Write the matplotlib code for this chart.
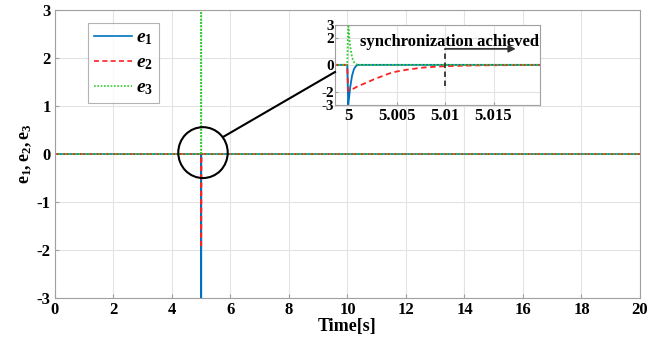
import matplotlib
matplotlib.use("Agg")
import matplotlib.pyplot as plt
from matplotlib.patches import Ellipse
from matplotlib.ticker import FixedLocator, FixedFormatter

plt.rcParams['font.family'] = ['Liberation Serif', 'DejaVu Serif']
plt.rcParams['font.weight'] = 'bold'
plt.rcParams['axes.unicode_minus'] = False
plt.rcParams['mathtext.fontset'] = 'custom'
plt.rcParams['mathtext.rm'] = 'Liberation Serif:bold'
plt.rcParams['mathtext.it'] = 'Liberation Serif:italic:bold'
plt.rcParams['mathtext.bf'] = 'Liberation Serif:bold'

# ---- data ----
t = [0, 4.9999, 5.0, 5.0001, 5.0002, 5.0004, 5.0006, 5.0008, 5.0009, 5.001,
     5.0015, 5.002, 5.0026, 5.0035, 5.0043, 5.005, 5.006, 5.007, 5.0078,
     5.009, 5.01, 5.013, 5.016, 5.02, 20]
e1 = [0, 0, -3.0, -2.4, -1.7, -0.8, -0.3, -0.1, -0.04, 0,
      0, 0, 0, 0, 0, 0, 0, 0, 0,
      0, 0, 0, 0, 0, 0]
e2 = [0, 0, -1.95, -1.92, -1.88, -1.82, -1.76, -1.68, -1.64, -1.6,
      -1.45, -1.3, -1.1, -0.85, -0.63, -0.5, -0.37, -0.27, -0.2,
      -0.14, -0.1, -0.04, -0.02, 0, 0]
e3 = [0, 0, 3.3, 2.2, 1.4, 0.55, 0.2, 0.06, 0.02, 0,
      0, 0, 0, 0, 0, 0, 0, 0, 0,
      0, 0, 0, 0, 0, 0]

main_xticks = [0, 2, 4, 6, 8, 10, 12, 14, 16, 18, 20]
main_yticks = [-3, -2, -1, 0, 1, 2, 3]
inset_xticks = [5, 5.005, 5.01, 5.015]
inset_xlabels = ['5', '5.005', '5.01', '5.015']
inset_yticks = [-3, -2, 0, 2, 3]

c1 = '#0072BD'
c2 = '#FF2020'
c3 = '#33CC33'
gridc = '#e3e3e3'
framec = '#a0a0a0'

fig = plt.figure(figsize=(6.61, 3.45), dpi=100)
ax = fig.add_axes([0.0832, 0.136, 0.885, 0.835])
ax.plot(t, e1, color=c1, lw=1.2, label=r'$e_1$')
ax.plot(t, e2, color=c2, lw=1.2, ls=(0, (3, 2)), label=r'$e_2$')
ax.plot(t, e3, color=c3, lw=1.2, ls=(0, (1, 1)), label=r'$e_3$')
ax.set_xlim(0, 20)
ax.set_ylim(-3, 3)
ax.set_xticks(main_xticks)
ax.set_yticks(main_yticks)
ax.grid(True, color=gridc, lw=0.8)
ax.tick_params(direction='in', labelsize=12, length=3, color=framec, pad=3)
for s in ax.spines.values():
    s.set_color(framec)
    s.set_linewidth(0.8)
ax.set_xlabel('Time[s]', fontsize=13, fontweight='bold', labelpad=0)
ax.set_ylabel(r'$\mathrm{e_1,e_2,e_3}$', fontsize=13, labelpad=2)
leg = ax.legend(loc='upper left', bbox_to_anchor=(0.056, 0.955), fontsize=14,
                handlelength=2.0, handletextpad=0.2, labelspacing=0.35,
                fancybox=False, borderpad=0.3, borderaxespad=0)
leg.get_frame().set_edgecolor(framec)
leg.get_frame().set_linewidth(0.8)

# circle marking zoom region
ax.add_patch(Ellipse((5.06, 0.03), 1.69, 1.06, fill=False, ec='black', lw=1.5, zorder=5))

# inset
axi = fig.add_axes([0.507, 0.696, 0.310, 0.232])
axi.plot(t, e1, color=c1, lw=1.3)
axi.plot(t, e2, color=c2, lw=1.3, ls=(0, (3, 2)))
axi.plot(t, e3, color=c3, lw=1.3, ls=(0, (1, 1)))
axi.set_xlim(4.99865, 5.0198)
axi.set_ylim(-3, 3)
axi.xaxis.set_major_locator(FixedLocator(inset_xticks))
axi.xaxis.set_major_formatter(FixedFormatter(inset_xlabels))
axi.set_yticks(inset_yticks)
axi.grid(True, color=gridc, lw=0.8)
axi.tick_params(direction='in', labelsize=12, length=2, color=framec, pad=2)
axi.tick_params(axis='y', pad=1, labelsize=11)
for s in axi.spines.values():
    s.set_color(framec)
    s.set_linewidth(0.8)

# synchronization annotation
axi.plot([5.01, 5.01], [-1.6, 1.2], color='#333333', lw=1.3, ls=(0, (3, 2)))
axi.annotate('', xy=(5.0173, 1.2), xytext=(5.01, 1.2),
             arrowprops=dict(arrowstyle='-|>', color='#333333', lw=1.3,
                             mutation_scale=10, shrinkA=0, shrinkB=0))
axi.text(5.0012, 1.75, 'synchronization achieved', fontsize=12, fontweight='bold',
         va='center', ha='left')

# connector line from circle to inset (figure coords)
fig.add_artist(plt.Line2D([223 / 661, 335 / 661], [1 - 137 / 345, 1 - 72 / 345],
                          color='black', lw=1.5, transform=fig.transFigure))

fig.savefig('out.png', dpi=100)
